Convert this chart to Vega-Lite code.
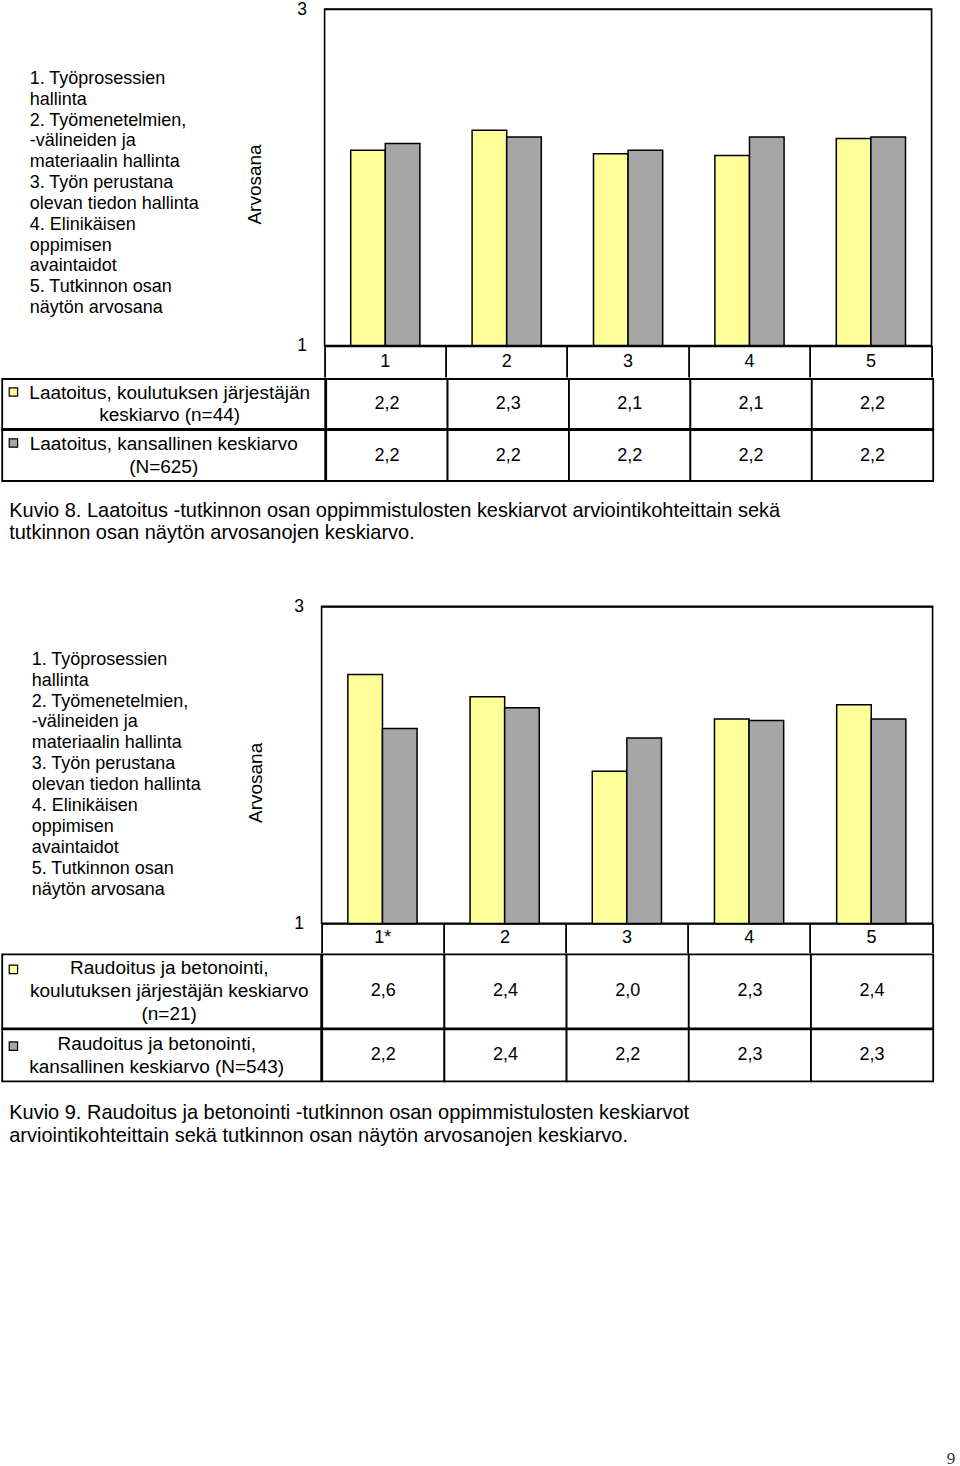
{
  "$schema": "https://vega.github.io/schema/vega-lite/v6.json",
  "padding": {"left": 1.2, "top": -1, "right": 0, "bottom": 0},
  "background": "white",
  "spacing": -3.6,
  "config": {
    "font": "Liberation Sans",
    "view": {"stroke": null, "fill": "transparent"},
    "locale": {"number": {"decimal": ",", "thousands": "\u00a0", "grouping": [3], "currency": ["", "\u00a0€"]}}
  },
  "datasets": {
    "laatoitus": [
      {"kohde": "1", "sarja": "järjestäjä", "arvo": 2.16},
      {"kohde": "1", "sarja": "kansallinen", "arvo": 2.2},
      {"kohde": "2", "sarja": "järjestäjä", "arvo": 2.28},
      {"kohde": "2", "sarja": "kansallinen", "arvo": 2.24},
      {"kohde": "3", "sarja": "järjestäjä", "arvo": 2.14},
      {"kohde": "3", "sarja": "kansallinen", "arvo": 2.16},
      {"kohde": "4", "sarja": "järjestäjä", "arvo": 2.13},
      {"kohde": "4", "sarja": "kansallinen", "arvo": 2.24},
      {"kohde": "5", "sarja": "järjestäjä", "arvo": 2.23},
      {"kohde": "5", "sarja": "kansallinen", "arvo": 2.24}
    ],
    "laatoitus_sarjat": [
      {"sarja": "järjestäjä", "selite": "Laatoitus, koulutuksen järjestäjän\nkeskiarvo (n=44)"},
      {"sarja": "kansallinen", "selite": "Laatoitus, kansallinen keskiarvo\n(N=625)"}
    ],
    "raudoitus": [
      {"kohde": "1*", "sarja": "järjestäjä", "arvo": 2.57},
      {"kohde": "1*", "sarja": "kansallinen", "arvo": 2.23},
      {"kohde": "2", "sarja": "järjestäjä", "arvo": 2.43},
      {"kohde": "2", "sarja": "kansallinen", "arvo": 2.36},
      {"kohde": "3", "sarja": "järjestäjä", "arvo": 1.96},
      {"kohde": "3", "sarja": "kansallinen", "arvo": 2.17},
      {"kohde": "4", "sarja": "järjestäjä", "arvo": 2.29},
      {"kohde": "4", "sarja": "kansallinen", "arvo": 2.28},
      {"kohde": "5", "sarja": "järjestäjä", "arvo": 2.38},
      {"kohde": "5", "sarja": "kansallinen", "arvo": 2.29}
    ],
    "raudoitus_sarjat": [
      {"sarja": "järjestäjä", "selite": "Raudoitus ja betonointi,\nkoulutuksen järjestäjän keskiarvo\n(n=21)"},
      {"sarja": "kansallinen", "selite": "Raudoitus ja betonointi,\nkansallinen keskiarvo (N=543)"}
    ],
    "kohteet": [
      {"rivi": 1, "teksti": "1. Työprosessien"},
      {"rivi": 2, "teksti": "hallinta"},
      {"rivi": 3, "teksti": "2. Työmenetelmien,"},
      {"rivi": 4, "teksti": "-välineiden ja"},
      {"rivi": 5, "teksti": "materiaalin hallinta"},
      {"rivi": 6, "teksti": "3. Työn perustana"},
      {"rivi": 7, "teksti": "olevan tiedon hallinta"},
      {"rivi": 8, "teksti": "4. Elinikäisen"},
      {"rivi": 9, "teksti": "oppimisen"},
      {"rivi": 10, "teksti": "avaintaidot"},
      {"rivi": 11, "teksti": "5. Tutkinnon osan"},
      {"rivi": 12, "teksti": "näytön arvosana"}
    ],
    "kuvio8": [{"teksti": "Kuvio 8. Laatoitus -tutkinnon osan oppimmistulosten keskiarvot arviointikohteittain sekä\ntutkinnon osan näytön arvosanojen keskiarvo."}],
    "kuvio9": [{"teksti": "Kuvio 9. Raudoitus ja betonointi -tutkinnon osan oppimmistulosten keskiarvot\narviointikohteittain sekä tutkinnon osan näytön arvosanojen keskiarvo."}],
    "sivu": [{"numero": "9"}]
  },
  "vconcat": [
    {
      "spacing": -3.6,
      "hconcat": [
        {
          "width": 245.9, "height": 368,
          "data": {"name": "kohteet"},
          "mark": {"type": "text", "align": "left", "baseline": "middle", "fontSize": 18, "dx": 27.5, "color": "black"},
          "encoding": {
            "x": {"datum": 0, "type": "quantitative", "scale": {"domain": [0, 1]}, "axis": null},
            "y": {"field": "rivi", "type": "quantitative", "scale": {"domain": [-2.362, 15.313], "reverse": true, "zero": false, "nice": false}, "axis": null},
            "text": {"field": "teksti"}
          }
        },
        {
          "width": 607, "height": 336.5,
          "view": {"stroke": "black", "strokeWidth": 1.6, "fill": "transparent"},
          "data": {"name": "laatoitus"},
          "resolve": {"scale": {"x": "independent"}, "axis": {"x": "independent"}},
          "layer": [
            {
              "transform": [{"filter": "datum.sarja === 'järjestäjä'"}],
              "mark": {"type": "rect", "opacity": 0},
              "encoding": {
                "x": {"field": "kohde", "type": "nominal", "sort": null, "scale": {"paddingInner": 0, "paddingOuter": 0},
                  "axis": {"orient": "bottom", "title": null, "domain": false, "grid": false, "labelAngle": 0, "labelFontSize": 18, "labelColor": "black", "labelBaseline": "middle", "labelPadding": -15.75, "ticks": true, "tickSize": 31.5, "tickWidth": 1.8, "tickColor": "black", "bandPosition": 1, "tickExtra": true}}
              }
            },
            {
              "mark": {"type": "bar", "stroke": "black", "strokeWidth": 1.5},
              "encoding": {
                "x": {"field": "kohde", "type": "nominal", "sort": null, "scale": {"paddingInner": 0.43, "paddingOuter": 0.215}, "axis": null},
                "xOffset": {"field": "sarja", "type": "nominal", "sort": ["järjestäjä", "kansallinen"]},
                "y": {"field": "arvo", "type": "quantitative", "scale": {"domain": [1, 3], "zero": false, "nice": false},
                  "axis": {"values": [1, 2, 3], "format": "d", "grid": true, "gridColor": "black", "gridWidth": 1.5, "gridOpacity": 1, "domain": false, "ticks": false, "tickSize": 0, "labelPadding": 18, "labelFontSize": 17.5, "labelColor": "black", "title": "Arvosana", "titleFontSize": 19, "titleFontWeight": "normal", "titleColor": "black", "titlePadding": 32, "titleY": 175}},
                "y2": {"datum": 1},
                "color": {"field": "sarja", "type": "nominal", "scale": {"domain": ["järjestäjä", "kansallinen"], "range": ["#FFFF99", "#A6A6A6"]}, "legend": null}
              }
            }
          ]
        }
      ]
    },
    {
      "spacing": -3.6,
      "hconcat": [
        {
          "width": 323, "height": 50,
          "data": {"name": "laatoitus_sarjat"},
          "transform": [{"filter": "datum.sarja === 'järjestäjä'"}],
          "layer": [
            {"mark": {"type": "rect", "fill": "white", "stroke": "black", "strokeWidth": 1.8}},
            {
              "mark": {"type": "point", "shape": "square", "filled": true, "size": 70, "stroke": "black", "strokeWidth": 1.2, "opacity": 1, "xOffset": 11.2, "yOffset": 13},
              "encoding": {
                "x": {"datum": 0, "type": "quantitative", "scale": {"domain": [0, 1]}, "axis": null},
                "y": {"datum": 1, "type": "quantitative", "scale": {"domain": [0, 1]}, "axis": null},
                "color": {"field": "sarja", "type": "nominal", "scale": {"domain": ["järjestäjä", "kansallinen"], "range": ["#FFFF99", "#A6A6A6"]}, "legend": null}
              }
            },
            {
              "mark": {"type": "text", "fontSize": 19, "lineBreak": "\n", "lineHeight": 22.5, "color": "black", "dx": 6, "dy": -11.25},
              "encoding": {"text": {"field": "selite"}}
            }
          ]
        },
        {
          "width": 607, "height": 50,
          "data": {"name": "laatoitus"},
          "transform": [{"filter": "datum.sarja === 'järjestäjä'"}],
          "encoding": {"x": {"field": "kohde", "type": "nominal", "sort": null, "scale": {"paddingInner": 0, "paddingOuter": 0}, "axis": null}},
          "layer": [
            {"mark": {"type": "rect", "fill": "white", "stroke": "black", "strokeWidth": 1.8}},
            {"mark": {"type": "text", "fontSize": 18, "color": "black"}, "encoding": {"text": {"field": "arvo", "type": "quantitative", "format": ".1f"}}}
          ]
        }
      ]
    },
    {
      "spacing": -3.6,
      "hconcat": [
        {
          "width": 323, "height": 51,
          "data": {"name": "laatoitus_sarjat"},
          "transform": [{"filter": "datum.sarja === 'kansallinen'"}],
          "layer": [
            {"mark": {"type": "rect", "fill": "white", "stroke": "black", "strokeWidth": 1.8}},
            {
              "mark": {"type": "point", "shape": "square", "filled": true, "size": 70, "stroke": "black", "strokeWidth": 1.2, "opacity": 1, "xOffset": 11.2, "yOffset": 13},
              "encoding": {
                "x": {"datum": 0, "type": "quantitative", "scale": {"domain": [0, 1]}, "axis": null},
                "y": {"datum": 1, "type": "quantitative", "scale": {"domain": [0, 1]}, "axis": null},
                "color": {"field": "sarja", "type": "nominal", "scale": {"domain": ["järjestäjä", "kansallinen"], "range": ["#FFFF99", "#A6A6A6"]}, "legend": null}
              }
            },
            {
              "mark": {"type": "text", "fontSize": 19, "lineBreak": "\n", "lineHeight": 22.5, "color": "black", "dx": 0, "dy": -11.25},
              "encoding": {"text": {"field": "selite"}}
            }
          ]
        },
        {
          "width": 607, "height": 51,
          "data": {"name": "laatoitus"},
          "transform": [{"filter": "datum.sarja === 'kansallinen'"}],
          "encoding": {"x": {"field": "kohde", "type": "nominal", "sort": null, "scale": {"paddingInner": 0, "paddingOuter": 0}, "axis": null}},
          "layer": [
            {"mark": {"type": "rect", "fill": "white", "stroke": "black", "strokeWidth": 1.8}},
            {"mark": {"type": "text", "fontSize": 18, "color": "black"}, "encoding": {"text": {"field": "arvo", "type": "quantitative", "format": ".1f"}}}
          ]
        }
      ]
    },
    {
      "width": 930, "height": 117.1,
      "data": {"name": "kuvio8"},
      "mark": {"type": "text", "align": "left", "baseline": "middle", "fontSize": 20, "lineBreak": "\n", "lineHeight": 22.5, "dx": 7, "dy": -29.75, "color": "black"},
      "encoding": {
        "x": {"datum": 0, "type": "quantitative", "scale": {"domain": [0, 1]}, "axis": null},
        "text": {"field": "teksti"}
      }
    },
    {
      "spacing": -3.6,
      "hconcat": [
        {
          "width": 246.7, "height": 347,
          "data": {"name": "kohteet"},
          "mark": {"type": "text", "align": "left", "baseline": "middle", "fontSize": 18, "dx": 29.5, "color": "black"},
          "encoding": {
            "x": {"datum": 0, "type": "quantitative", "scale": {"domain": [0, 1]}, "axis": null},
            "y": {"field": "rivi", "type": "quantitative", "scale": {"domain": [-1.549, 15.046], "reverse": true, "zero": false, "nice": false}, "axis": null},
            "text": {"field": "teksti"}
          }
        },
        {
          "width": 611, "height": 317,
          "view": {"stroke": "black", "strokeWidth": 1.6, "fill": "transparent"},
          "data": {"name": "raudoitus"},
          "resolve": {"scale": {"x": "independent"}, "axis": {"x": "independent"}},
          "layer": [
            {
              "transform": [{"filter": "datum.sarja === 'järjestäjä'"}],
              "mark": {"type": "rect", "opacity": 0},
              "encoding": {
                "x": {"field": "kohde", "type": "nominal", "sort": null, "scale": {"paddingInner": 0, "paddingOuter": 0},
                  "axis": {"orient": "bottom", "title": null, "domain": false, "grid": false, "labelAngle": 0, "labelFontSize": 18, "labelColor": "black", "labelBaseline": "middle", "labelPadding": -14.5, "ticks": true, "tickSize": 29, "tickWidth": 1.8, "tickColor": "black", "bandPosition": 1, "tickExtra": true}}
              }
            },
            {
              "mark": {"type": "bar", "stroke": "black", "strokeWidth": 1.5},
              "encoding": {
                "x": {"field": "kohde", "type": "nominal", "sort": null, "scale": {"paddingInner": 0.43, "paddingOuter": 0.215}, "axis": null},
                "xOffset": {"field": "sarja", "type": "nominal", "sort": ["järjestäjä", "kansallinen"]},
                "y": {"field": "arvo", "type": "quantitative", "scale": {"domain": [1, 3], "zero": false, "nice": false},
                  "axis": {"values": [1, 2, 3], "format": "d", "grid": true, "gridColor": "black", "gridWidth": 1.5, "gridOpacity": 1, "domain": false, "ticks": false, "tickSize": 0, "labelPadding": 18, "labelFontSize": 17.5, "labelColor": "black", "title": "Arvosana", "titleFontSize": 19, "titleFontWeight": "normal", "titleColor": "black", "titlePadding": 28, "titleY": 176}},
                "y2": {"datum": 1},
                "color": {"field": "sarja", "type": "nominal", "scale": {"domain": ["järjestäjä", "kansallinen"], "range": ["#FFFF99", "#A6A6A6"]}, "legend": null}
              }
            }
          ]
        }
      ]
    },
    {
      "spacing": -3.6,
      "hconcat": [
        {
          "width": 319, "height": 74,
          "data": {"name": "raudoitus_sarjat"},
          "transform": [{"filter": "datum.sarja === 'järjestäjä'"}],
          "layer": [
            {"mark": {"type": "rect", "fill": "white", "stroke": "black", "strokeWidth": 1.8}},
            {
              "mark": {"type": "point", "shape": "square", "filled": true, "size": 70, "stroke": "black", "strokeWidth": 1.2, "opacity": 1, "xOffset": 11.2, "yOffset": 15},
              "encoding": {
                "x": {"datum": 0, "type": "quantitative", "scale": {"domain": [0, 1]}, "axis": null},
                "y": {"datum": 1, "type": "quantitative", "scale": {"domain": [0, 1]}, "axis": null},
                "color": {"field": "sarja", "type": "nominal", "scale": {"domain": ["järjestäjä", "kansallinen"], "range": ["#FFFF99", "#A6A6A6"]}, "legend": null}
              }
            },
            {
              "mark": {"type": "text", "fontSize": 19, "lineBreak": "\n", "lineHeight": 23, "color": "black", "dx": 7.5, "dy": -23},
              "encoding": {"text": {"field": "selite"}}
            }
          ]
        },
        {
          "width": 611, "height": 74,
          "data": {"name": "raudoitus"},
          "transform": [{"filter": "datum.sarja === 'järjestäjä'"}],
          "encoding": {"x": {"field": "kohde", "type": "nominal", "sort": null, "scale": {"paddingInner": 0, "paddingOuter": 0}, "axis": null}},
          "layer": [
            {"mark": {"type": "rect", "fill": "white", "stroke": "black", "strokeWidth": 1.8}},
            {"mark": {"type": "text", "fontSize": 18, "color": "black"}, "encoding": {"text": {"field": "arvo", "type": "quantitative", "format": ".1f"}}}
          ]
        }
      ]
    },
    {
      "spacing": -3.6,
      "hconcat": [
        {
          "width": 319, "height": 52,
          "data": {"name": "raudoitus_sarjat"},
          "transform": [{"filter": "datum.sarja === 'kansallinen'"}],
          "layer": [
            {"mark": {"type": "rect", "fill": "white", "stroke": "black", "strokeWidth": 1.8}},
            {
              "mark": {"type": "point", "shape": "square", "filled": true, "size": 70, "stroke": "black", "strokeWidth": 1.2, "opacity": 1, "xOffset": 11.2, "yOffset": 16.7},
              "encoding": {
                "x": {"datum": 0, "type": "quantitative", "scale": {"domain": [0, 1]}, "axis": null},
                "y": {"datum": 1, "type": "quantitative", "scale": {"domain": [0, 1]}, "axis": null},
                "color": {"field": "sarja", "type": "nominal", "scale": {"domain": ["järjestäjä", "kansallinen"], "range": ["#FFFF99", "#A6A6A6"]}, "legend": null}
              }
            },
            {
              "mark": {"type": "text", "fontSize": 19, "lineBreak": "\n", "lineHeight": 23, "color": "black", "dx": -5, "dy": -11.5},
              "encoding": {"text": {"field": "selite"}}
            }
          ]
        },
        {
          "width": 611, "height": 52,
          "data": {"name": "raudoitus"},
          "transform": [{"filter": "datum.sarja === 'kansallinen'"}],
          "encoding": {"x": {"field": "kohde", "type": "nominal", "sort": null, "scale": {"paddingInner": 0, "paddingOuter": 0}, "axis": null}},
          "layer": [
            {"mark": {"type": "rect", "fill": "white", "stroke": "black", "strokeWidth": 1.8}},
            {"mark": {"type": "text", "fontSize": 18, "color": "black"}, "encoding": {"text": {"field": "arvo", "type": "quantitative", "format": ".1f"}}}
          ]
        }
      ]
    },
    {
      "width": 930, "height": 80,
      "data": {"name": "kuvio9"},
      "mark": {"type": "text", "align": "left", "baseline": "middle", "fontSize": 20, "lineBreak": "\n", "lineHeight": 23, "dx": 7, "dy": -8.9, "color": "black"},
      "encoding": {
        "x": {"datum": 0, "type": "quantitative", "scale": {"domain": [0, 1]}, "axis": null},
        "text": {"field": "teksti"}
      }
    },
    {
      "width": 953, "height": 305.7,
      "data": {"name": "sivu"},
      "mark": {"type": "text", "align": "right", "baseline": "bottom", "font": "Liberation Serif", "fontSize": 17, "dy": 0, "color": "#333333"},
      "encoding": {
        "x": {"datum": 1, "type": "quantitative", "scale": {"domain": [0, 1]}, "axis": null},
        "y": {"datum": 0, "type": "quantitative", "scale": {"domain": [0, 1]}, "axis": null},
        "text": {"field": "numero"}
      }
    }
  ]
}
